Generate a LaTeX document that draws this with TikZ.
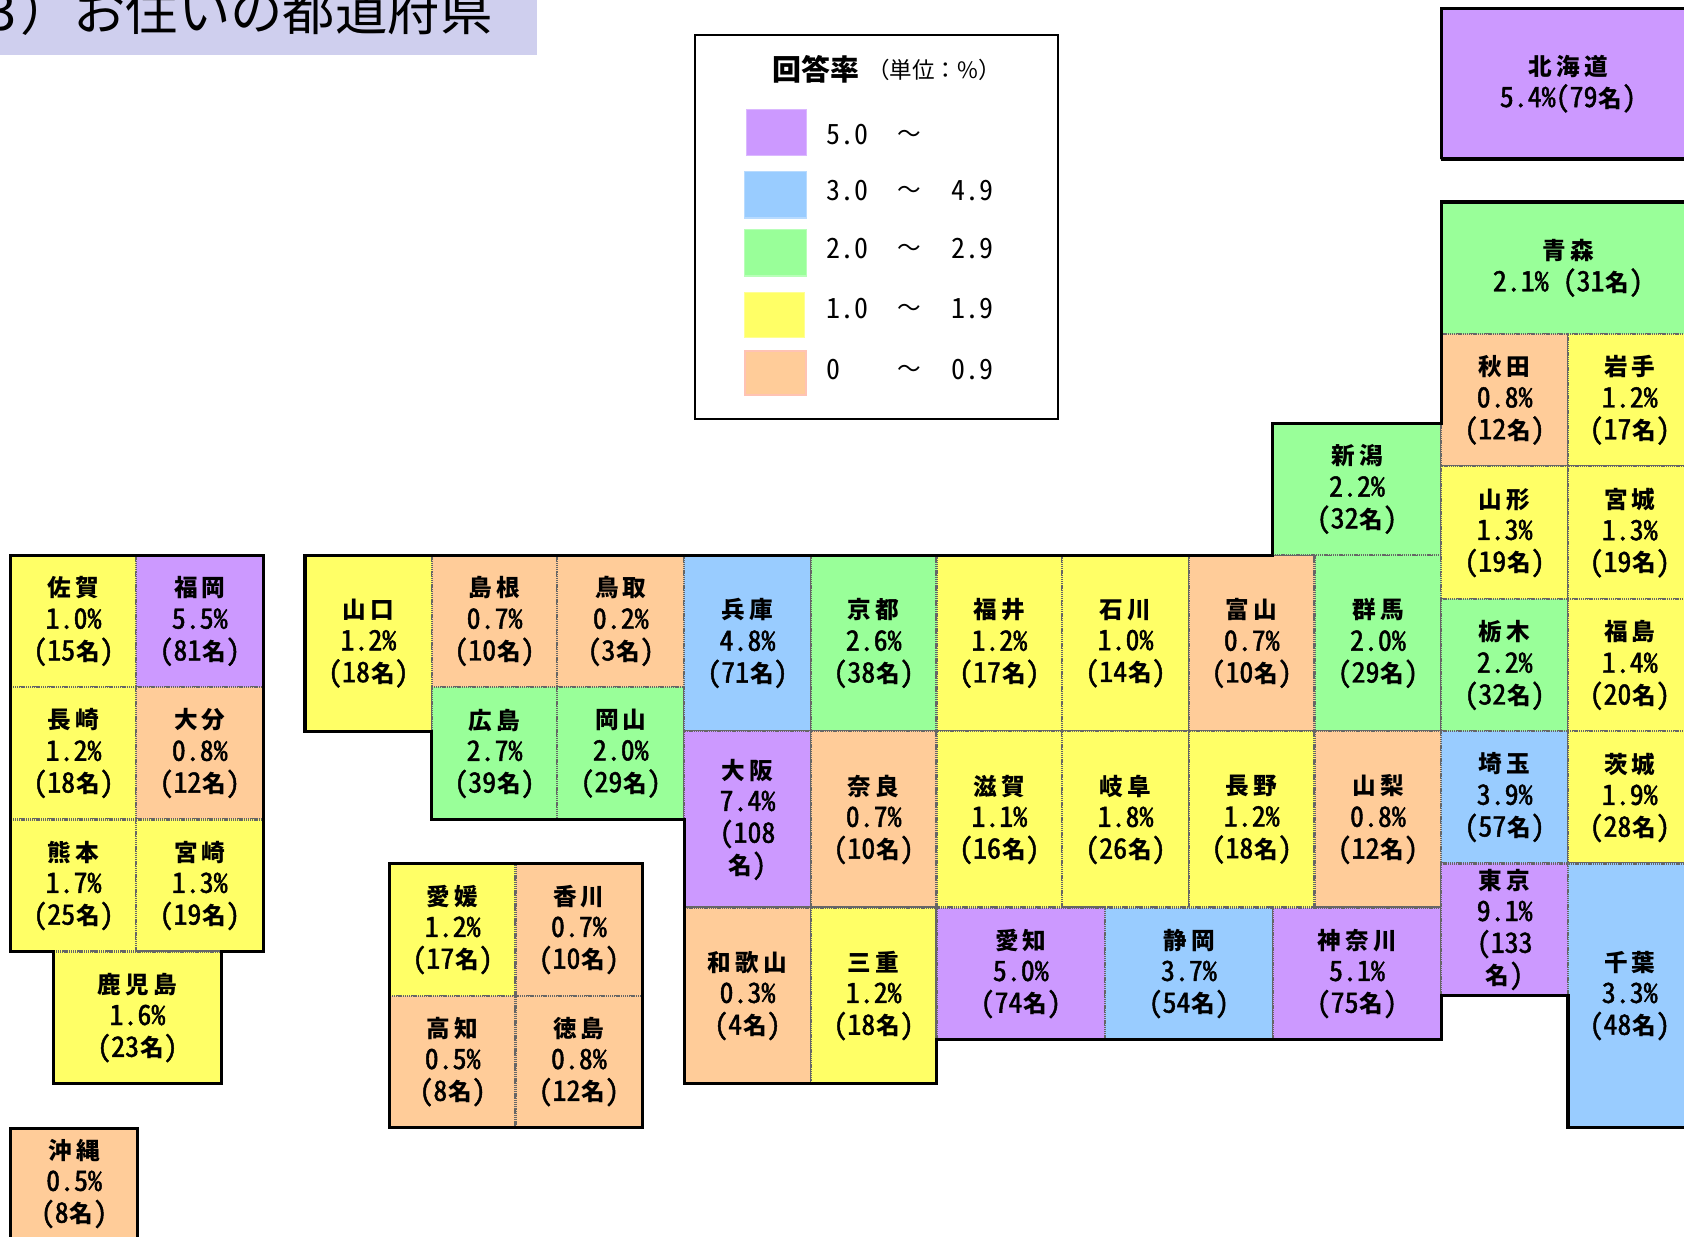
\documentclass[tikz,border=0pt]{standalone}
\usepackage{fontspec}
\setmainfont{Noto Sans CJK JP}
\newfontfamily\jknf[LetterSpace=18]{Noto Sans CJK JP}
\newfontfamily\jnmf[RawFeature={+hwid;embolden=1.6}]{Noto Sans CJK JP}
\newfontfamily\jlgf[RawFeature=+hwid]{Noto Sans CJK JP}
\newfontfamily\jpl{Noto Sans CJK JP}
\newcommand\jkn{\fontsize{11}{14.8}\selectfont\jknf\bfseries}
\newcommand\jnm{\fontsize{13}{14.8}\selectfont\jnmf}
\definecolor{cpur}{HTML}{CC99FF}
\definecolor{cblu}{HTML}{99CCFF}
\definecolor{cgrn}{HTML}{99FF99}
\definecolor{cyel}{HTML}{FFFF66}
\definecolor{cora}{HTML}{FFCC99}
\definecolor{ctitle}{HTML}{CFCFEE}
\tikzset{
  cellstyle/.style={draw=black!60,line width=1pt,dash pattern=on 0.6pt off 0.4pt,inner sep=0pt,align=center,
    font=\fontsize{11}{14.8}\selectfont},
  outline/.style={draw=black,line width=1.5pt,line join=miter},
  swatch/.style={inner sep=0pt,line width=0.5pt},
  legtext/.style={inner sep=0pt,anchor=west,font=\fontsize{13}{14}\selectfont\jlgf},
}
\newcommand\pcell[7]{%
  \pgfmathsetmacro\cw{(#4-#2)*0.5}\pgfmathsetmacro\ch{(#5-#3)*0.5}%
  \pgfmathsetmacro\cx{(#2+#4)/2}\pgfmathsetmacro\cy{(#3+#5)/2}%
  \node[cellstyle,fill=#6,minimum width=\cw pt,minimum height=\ch pt] (#1) at (\cx,\cy) {#7};}
\newcommand\lab[3]{{\jkn #1}\\{\jnm #2\%}\\{\jnm(#3\kern0.5pt{\jkn 名}\jnm)}}
\newcommand\swatchbox[6]{%
  \pgfmathsetmacro\cw{(#4-#2)*0.5}\pgfmathsetmacro\ch{(#5-#3)*0.5}%
  \pgfmathsetmacro\cx{(#2+#4)/2}\pgfmathsetmacro\cy{(#3+#5)/2}%
  \node[swatch,fill=#6,draw=#6!70!white,minimum width=\cw pt,minimum height=\ch pt] (#1) at (\cx,\cy) {};}
\begin{document}
\begin{tikzpicture}[x=0.5pt,y=-0.5pt]
\useasboundingbox (0,0) rectangle (1568,1151);
\clip (0,0) rectangle (1568,1151);
% title
\fill[ctitle] (-2,-2) rectangle (500,51);
\node[inner sep=0pt,anchor=base west,font=\fontsize{24.4}{24}\selectfont\jpl] (title) at (-12,28) {3\kern2pt）お住いの都道府県};
% legend
\node[draw=black,line width=0.9pt,minimum width=169pt,minimum height=178.5pt,inner sep=0pt] (legend) at (816,211.5) {};
\node[inner sep=0pt,anchor=west,font=\fontsize{13.5}{14}\selectfont\jpl\bfseries] (legtitle) at (719,65) {回答率};
\node[inner sep=0pt,anchor=west,font=\fontsize{10.5}{12}\selectfont\jpl] (legunit) at (807,65) {（単位：\%）};
\swatchbox{s1}{695}{102}{751}{145}{cpur}
\swatchbox{s2}{693}{160}{751}{203}{cblu}
\swatchbox{s3}{693}{214}{751}{257}{cgrn}
\swatchbox{s4}{693}{272}{749}{314}{cyel}
\node[swatch,fill=cora,draw=pink!70!cora,line width=0.8pt,minimum width=28.5pt,minimum height=20.5pt] (s5) at (722,347) {};
\node[legtext] (a1) at (769,125) {5.0};
\node[legtext] (a2) at (769,177) {3.0};
\node[legtext] (a3) at (769,231) {2.0};
\node[legtext] (a4) at (769,287) {1.0};
\node[legtext] (a5) at (769,344) {0};
\foreach \nn/\yy in {t1/127,t2/179,t3/233,t4/289,t5/346}
  \node[legtext,anchor=center,font=\fontsize{11}{14}\selectfont\jpl] (\nn) at (847,\yy) {～};
\node[legtext] (b2) at (886,177) {4.9};
\node[legtext] (b3) at (886,231) {2.9};
\node[legtext] (b4) at (886,287) {1.9};
\node[legtext] (b5) at (886,344) {0.9};
% Kyushu
\pcell{saga}{10}{517}{127}{640}{cyel}{\lab{佐賀}{1.0}{15}}
\pcell{fukuoka}{127}{517}{245}{640}{cpur}{\lab{福岡}{5.5}{81}}
\pcell{nagasaki}{10}{640}{127}{763}{cyel}{\lab{長崎}{1.2}{18}}
\pcell{oita}{127}{640}{245}{763}{cora}{\lab{大分}{0.8}{12}}
\pcell{kumamoto}{10}{763}{127}{886}{cyel}{\lab{熊本}{1.7}{25}}
\pcell{miyazaki}{127}{763}{245}{886}{cyel}{\lab{宮崎}{1.3}{19}}
\pcell{kagoshima}{50}{886}{206}{1009}{cyel}{\lab{鹿児島}{1.6}{23}}
\pcell{okinawa}{10}{1051}{128}{1153}{cora}{\lab{沖縄}{0.5}{8}}
% Chugoku
\pcell{yamaguchi}{284}{517}{402}{681}{cyel}{\lab{山口}{1.2}{18}}
\pcell{shimane}{402}{517}{519}{640}{cora}{\lab{島根}{0.7}{10}}
\pcell{tottori}{519}{517}{637}{640}{cora}{\lab{鳥取}{0.2}{3}}
\pcell{hiroshima}{402}{640}{519}{763}{cgrn}{\lab{広島}{2.7}{39}}
\pcell{okayama}{519}{640}{637}{763}{cgrn}{\lab{岡山}{2.0}{29}}
% Shikoku
\pcell{ehime}{363}{804}{480}{927}{cyel}{\lab{愛媛}{1.2}{17}}
\pcell{kagawa}{480}{804}{598}{927}{cora}{\lab{香川}{0.7}{10}}
\pcell{kochi}{363}{927}{480}{1050}{cora}{\lab{高知}{0.5}{8}}
\pcell{tokushima}{480}{927}{598}{1050}{cora}{\lab{徳島}{0.8}{12}}
% Honshu rows
\pcell{hyogo}{637}{517}{755}{681}{cblu}{\lab{兵庫}{4.8}{71}}
\pcell{kyoto}{755}{517}{872}{681}{cgrn}{\lab{京都}{2.6}{38}}
\pcell{fukui}{872}{517}{989}{681}{cyel}{\lab{福井}{1.2}{17}}
\pcell{ishikawa}{989}{517}{1107}{681}{cyel}{\lab{石川}{1.0}{14}}
\pcell{toyama}{1107}{517}{1224}{681}{cora}{\lab{富山}{0.7}{10}}
\pcell{gunma}{1224}{517}{1342}{681}{cgrn}{\lab{群馬}{2.0}{29}}
\pcell{osaka}{637}{681}{755}{845}{cpur}{{\jkn 大阪}\\{\jnm 7.4\%}\\{\jnm(108}\\{\jkn 名}{\jnm)}}
\pcell{nara}{755}{681}{872}{845}{cora}{\lab{奈良}{0.7}{10}}
\pcell{shiga}{872}{681}{989}{845}{cyel}{\lab{滋賀}{1.1}{16}}
\pcell{gifu}{989}{681}{1107}{845}{cyel}{\lab{岐阜}{1.8}{26}}
\pcell{nagano}{1107}{681}{1224}{845}{cyel}{\lab{長野}{1.2}{18}}
\pcell{yamanashi}{1224}{681}{1342}{845}{cora}{\lab{山梨}{0.8}{12}}
\pcell{wakayama}{637}{845}{755}{1009}{cora}{\lab{和歌山}{0.3}{4}}
\pcell{mie}{755}{845}{872}{1009}{cyel}{\lab{三重}{1.2}{18}}
\pcell{aichi}{872}{845}{1029}{968}{cpur}{\lab{愛知}{5.0}{74}}
\pcell{shizuoka}{1029}{845}{1185}{968}{cblu}{\lab{静岡}{3.7}{54}}
\pcell{kanagawa}{1185}{845}{1342}{968}{cpur}{\lab{神奈川}{5.1}{75}}
\pcell{niigata}{1185}{394}{1342}{517}{cgrn}{\lab{新潟}{2.2}{32}}
% Tohoku / Kanto
\pcell{hokkaido}{1342}{8}{1578}{148}{cpur}{{\jkn 北海道}\\{\jnm 5.4\%(79\kern0.5pt{\jkn 名}\jnm)}}
\pcell{aomori}{1342}{188}{1578}{311}{cgrn}{{\jkn 青森}\\{\jnm 2.1\% (31\kern0.5pt{\jkn 名}\jnm)}}
\pcell{akita}{1342}{311}{1460}{434}{cora}{\lab{秋田}{0.8}{12}}
\pcell{iwate}{1460}{311}{1575}{434}{cyel}{\lab{岩手}{1.2}{17}}
\pcell{yamagata}{1342}{434}{1460}{558}{cyel}{\lab{山形}{1.3}{19}}
\pcell{miyagi}{1460}{434}{1575}{558}{cyel}{\lab{宮城}{1.3}{19}}
\pcell{tochigi}{1342}{558}{1460}{681}{cgrn}{\lab{栃木}{2.2}{32}}
\pcell{fukushima}{1460}{558}{1575}{681}{cyel}{\lab{福島}{1.4}{20}}
\pcell{saitama}{1342}{681}{1460}{804}{cblu}{\lab{埼玉}{3.9}{57}}
\pcell{ibaraki}{1460}{681}{1575}{804}{cyel}{\lab{茨城}{1.9}{28}}
\pcell{tokyo}{1342}{804}{1460}{927}{cpur}{{\jkn 東京}\\{\jnm 9.1\%}\\{\jnm(133}\\{\jkn 名}{\jnm)}}
\pcell{chiba}{1460}{804}{1575}{1050}{cblu}{\lab{千葉}{3.3}{48}}
% thick outlines
\draw[outline] (10,517) -- (245,517) -- (245,886) -- (206,886) -- (206,1009) -- (50,1009) -- (50,886) -- (10,886) -- cycle;
\draw[outline] (10,1175) -- (10,1051) -- (128,1051) -- (128,1175);
\draw[outline] (284,517) -- (1185,517) -- (1185,394) -- (1342,394) -- (1342,188) -- (1600,188) -- (1600,1050) -- (1460,1050) -- (1460,927) -- (1342,927) -- (1342,968) -- (872,968) -- (872,1009) -- (637,1009) -- (637,763) -- (402,763) -- (402,681) -- (284,681) -- cycle;
\draw[outline] (363,804) rectangle (598,1050);
\draw[outline] (1342,148) -- (1600,148) (1600,8) -- (1342,8) -- (1342,148);
\end{tikzpicture}
\end{document}
